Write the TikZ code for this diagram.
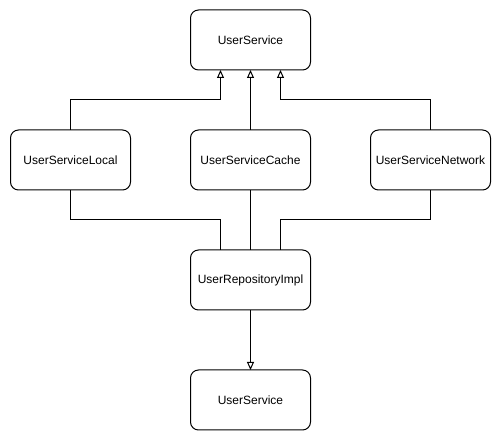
\documentclass[tikz,border=0pt]{standalone}
\usepackage{fontspec}
\setmainfont{Liberation Sans}
\usetikzlibrary{positioning}
\usetikzlibrary{arrows.meta}
\usetikzlibrary{calc}

\begin{document}
\begin{tikzpicture}[
  x=1pt, y=1pt,
  font=\fontsize{12}{14}\selectfont,
  node distance=60pt,
  box/.style={draw, rounded corners=8pt, align=center, minimum height=60pt, minimum width=120pt, line width=1pt, inner sep=2pt, outer sep=0pt},
  inherit/.style={-{Triangle[open, length=8pt, width=7pt]}, line width=1pt},
  link/.style={line width=1pt}
]
\useasboundingbox (0,0) rectangle (501,441);

\node[box] (service) at (250.5,401) {UserService};
\node[box, below=of service] (cache) {UserServiceCache};
\node[box, left=of cache] (local) {UserServiceLocal};
\node[box, right=of cache] (network) {UserServiceNetwork};
\node[box, below=of cache] (repo) {UserRepositoryImpl};
\node[box, below=of repo] (client) {UserService};

% Bend levels
\coordinate (upbend) at ($(service.south)!0.5!(cache.north)$);
\coordinate (downbend) at ($(cache.south)!0.5!(repo.north)$);

% Implementations
\draw[inherit] (local.north) |- ([xshift=-30pt]service.south |- upbend) -- ([xshift=-30pt]service.south);
\draw[inherit] (cache.north) -- (service.south);
\draw[inherit] (network.north) |- ([xshift=30pt]service.south |- upbend) -- ([xshift=30pt]service.south);

% Dependencies
\draw[link] (local.south) |- ([xshift=-30pt]repo.north |- downbend) -- ([xshift=-30pt]repo.north);
\draw[link] (cache.south) -- (repo.north);
\draw[link] (network.south) |- ([xshift=30pt]repo.north |- downbend) -- ([xshift=30pt]repo.north);

\draw[inherit] (repo.south) -- (client.north);

\end{tikzpicture}
\end{document}
